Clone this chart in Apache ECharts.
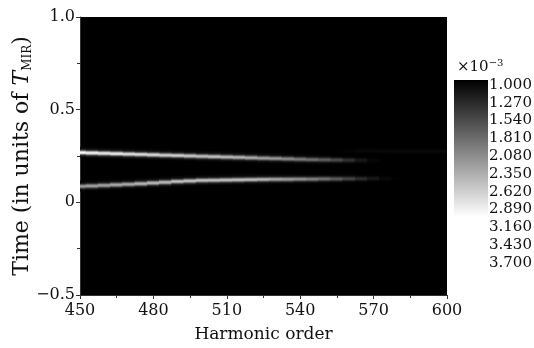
<!DOCTYPE html>
<html>
<head>
<meta charset="utf-8">
<script src="https://cdn.jsdelivr.net/npm/echarts@6/dist/echarts.min.js"></script>
<style>
  html, body { margin: 0; padding: 0; background: #fff; }
  #chart { width: 534px; height: 348px; }
</style>
</head>
<body>
<div id="chart"></div>
<script>
// harmonic order columns (x)
var harmonics = [450, 455, 460, 465, 470, 475, 480, 485, 490, 495, 500, 505, 510, 515, 520, 525,
                 530, 535, 540, 545, 550, 555, 560, 565, 570, 575, 580, 585, 590, 595, 600];

// upper trajectory: centre time and relative brightness
var upperTime = [0.270, 0.268, 0.266, 0.264, 0.262, 0.260, 0.258, 0.256, 0.254, 0.252, 0.250, 0.248, 0.246, 0.244, 0.242, 0.240,
                 0.238, 0.236, 0.234, 0.232, 0.231, 0.230, 0.229, 0.228, 0.228, 0.228, 0.228, 0.228, 0.228, 0.228, 0.228];
var upperLevel = [1.00, 0.97, 0.95, 0.93, 0.90, 0.88, 0.86, 0.84, 0.82, 0.80, 0.78, 0.76, 0.74, 0.72, 0.68, 0.64,
                  0.60, 0.55, 0.50, 0.44, 0.38, 0.30, 0.20, 0.10, 0.03, 0, 0, 0, 0, 0, 0];

// lower trajectory
var lowerTime = [0.088, 0.090, 0.093, 0.096, 0.099, 0.102, 0.106, 0.110, 0.114, 0.117, 0.120, 0.121, 0.122, 0.123, 0.124, 0.125,
                 0.126, 0.126, 0.127, 0.127, 0.128, 0.128, 0.129, 0.129, 0.130, 0.130, 0.130, 0.130, 0.130, 0.130, 0.130];
var lowerLevel = [0.64, 0.65, 0.66, 0.68, 0.70, 0.72, 0.74, 0.76, 0.77, 0.78, 0.78, 0.78, 0.77, 0.76, 0.74, 0.72,
                  0.68, 0.64, 0.58, 0.52, 0.45, 0.37, 0.28, 0.18, 0.10, 0.04, 0.01, 0, 0, 0, 0];

// faint trace near the top at high orders
var faintTime = [0.280, 0.280, 0.280, 0.280, 0.280, 0.280, 0.280, 0.280, 0.280, 0.280, 0.280, 0.280, 0.280, 0.280, 0.280, 0.280,
                 0.280, 0.280, 0.280, 0.280, 0.280, 0.279, 0.279, 0.279, 0.279, 0.278, 0.278, 0.278, 0.278, 0.277, 0.277];
var faintLevel = [0, 0, 0, 0, 0, 0, 0, 0, 0, 0, 0, 0, 0, 0, 0, 0,
                  0, 0, 0, 0, 0, 0.01, 0.02, 0.03, 0.035, 0.04, 0.04, 0.04, 0.04, 0.04, 0.04];

// cross-section of a trajectory (time offsets and relative brightness)
var profileOffset = [-0.025, -0.02, -0.015, -0.01, -0.005, 0, 0.005, 0.01, 0.015, 0.02, 0.025];
var profileLevel = [0.03, 0.08, 0.2, 0.5, 0.85, 1, 0.85, 0.5, 0.2, 0.08, 0.03];

var colorbarLabels = ['1.000', '1.270', '1.540', '1.810', '2.080', '2.350', '2.620', '2.890', '3.160', '3.430', '3.700'];

var CELL_W = 5, CELL_H = 0.005;
var VMIN = 1, VMAX = 3;
var FONT = 'DejaVu Serif';

var cells = [];
function addBand(times, levels) {
  for (var i = 0; i < harmonics.length; i++) {
    if (!levels[i]) continue;
    for (var k = 0; k < profileOffset.length; k++) {
      cells.push([harmonics[i], times[i] + profileOffset[k], VMIN + (VMAX - VMIN) * levels[i] * profileLevel[k]]);
    }
  }
}
addBand(upperTime, upperLevel);
addBand(lowerTime, lowerLevel);
addBand(faintTime, faintLevel);

var chart = echarts.init(document.getElementById('chart'));

var option = {
  animation: false,
  backgroundColor: '#fff',
  grid: {
    left: 80, right: 87, top: 17, bottom: 53,
    outerBoundsMode: 'none', containLabel: false,
    show: true, backgroundColor: '#000', borderWidth: 0
  },
  xAxis: {
    type: 'value', min: 450, max: 600, interval: 30,
    name: 'Harmonic order', nameLocation: 'middle', nameGap: 31,
    nameTextStyle: { fontFamily: FONT, fontSize: 17, color: '#111' },
    axisLine: { onZero: false, lineStyle: { color: '#333' } },
    axisTick: { length: 4, lineStyle: { color: '#333' } },
    minorTick: { show: true, splitNumber: 2, length: 3, lineStyle: { color: '#333' } },
    splitLine: { show: false },
    axisLabel: { fontFamily: FONT, fontSize: 16, color: '#111', margin: 8 }
  },
  yAxis: {
    type: 'value', min: -0.5, max: 1, interval: 0.5,
    name: '{t|Time (in units of }{i|T}{s|MIR}{t|)}',
    nameLocation: 'middle', nameRotate: 90, nameGap: 46, nameMoveOverlap: false,
    nameTextStyle: {
      rich: {
        t: { fontFamily: FONT, fontSize: 22, color: '#111' },
        i: { fontFamily: FONT, fontSize: 22, fontStyle: 'italic', color: '#111' },
        s: { fontFamily: FONT, fontSize: 12, color: '#111', verticalAlign: 'bottom', padding: [11, 0, 0, 0] }
      }
    },
    axisLine: { show: true, onZero: false, lineStyle: { color: '#333' } },
    axisTick: { show: true, length: 4, lineStyle: { color: '#333' } },
    minorTick: { show: true, splitNumber: 2, length: 3, lineStyle: { color: '#333' } },
    splitLine: { show: false },
    axisLabel: {
      fontFamily: FONT, fontSize: 16, color: '#111', margin: 5,
      formatter: function (v) { return v === 0 ? '0' : v.toFixed(1).replace('-', '\u2212'); }
    }
  },
  visualMap: {
    type: 'continuous', min: VMIN, max: VMAX, dimension: 2, seriesIndex: 0,
    inverse: true, calculable: false, hoverLink: false, show: false,
    inRange: { color: ['#000000', '#ffffff'] }
  },
  graphic: [{
    // colour bar for the visual map above
    type: 'rect', x: 454, y: 80,
    shape: { width: 34, height: 137 },
    style: {
      fill: new echarts.graphic.LinearGradient(0, 0, 0, 1, [
        { offset: 0, color: '#000000' }, { offset: 1, color: '#ffffff' }
      ])
    }
  }, {
    type: 'text', left: 457, top: 58,
    style: {
      text: '{a|\u00d710}{b|\u22123}',
      rich: {
        a: { fontFamily: FONT, fontSize: 15, fill: '#111' },
        b: { fontFamily: FONT, fontSize: 10, fill: '#111', verticalAlign: 'top', padding: [0, 0, 8, 0] }
      }
    }
  }].concat(colorbarLabels.map(function (s, i) {
    return {
      type: 'text', x: 489, y: 85 + i * 17.8,
      style: { text: s, fontFamily: FONT, fontSize: 15, fill: '#111', verticalAlign: 'middle', align: 'left' }
    };
  })),
  series: [{
    type: 'custom',
    clip: true,
    data: cells,
    renderItem: function (params, api) {
      var x = api.value(0), y = api.value(1);
      var p0 = api.coord([x - CELL_W / 2, y + CELL_H / 2]);
      var p1 = api.coord([x + CELL_W / 2, y - CELL_H / 2]);
      return {
        type: 'rect',
        shape: { x: p0[0] - 0.3, y: p0[1] - 0.3, width: p1[0] - p0[0] + 0.6, height: p1[1] - p0[1] + 0.6 },
        style: { fill: api.visual('color') }
      };
    }
  }]
};

chart.setOption(option);
</script>
</body>
</html>
